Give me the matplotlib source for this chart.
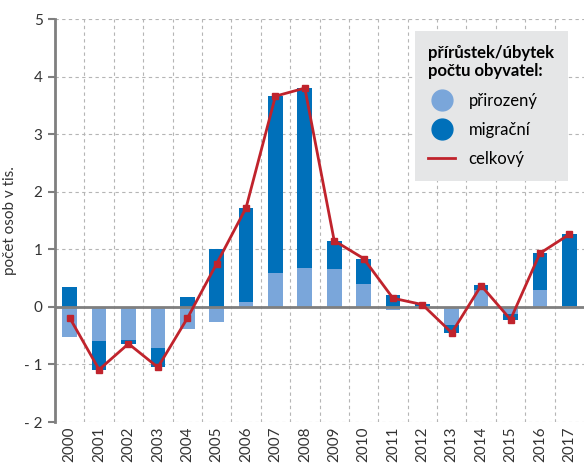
import matplotlib
matplotlib.use("Agg")
import matplotlib.pyplot as plt
import numpy as np
from matplotlib.lines import Line2D

years = [str(y) for y in range(2000, 2018)]
prirozeny = [-0.52, -0.60, -0.58, -0.72, -0.38, -0.26, 0.08, 0.58, 0.67, 0.65,
             0.40, -0.06, 0.01, -0.32, 0.30, -0.13, 0.30, 0.01]
migracni = [0.35, -0.49, -0.06, -0.33, 0.18, 1.00, 1.64, 3.08, 3.13, 0.50,
            0.44, 0.20, 0.04, -0.14, 0.08, -0.10, 0.63, 1.25]
celkovy = [-0.19, -1.09, -0.64, -1.05, -0.20, 0.75, 1.72, 3.66, 3.80, 1.15,
           0.84, 0.15, 0.04, -0.45, 0.37, -0.22, 0.93, 1.26]

LIGHT = "#7aa6da"
DARK = "#0070ba"
RED = "#c0232c"
GREY = "#7f7f7f"

plt.rcParams["font.family"] = ["Lato", "DejaVu Sans"]

fig = plt.figure(figsize=(5.84, 4.66), dpi=100)
ax = fig.add_axes([0.0942, 0.0944, 0.9058, 0.8648])

x = np.arange(len(years))
nat = np.array(prirozeny)
mig = np.array(migracni)
# migration stacks on natural change only when both have the same sign
mig_bottom = np.where(np.sign(nat) == np.sign(mig), nat, 0)

ax.bar(x, nat, width=0.5, color=LIGHT, zorder=2)
ax.bar(x, mig, width=0.5, bottom=mig_bottom, color=DARK, zorder=2)
ax.plot(x, celkovy, color=RED, lw=2, marker="s", ms=4.5, zorder=4)

ax.set_xlim(-0.5, len(years) - 0.5)
ax.set_ylim(-2, 5)
ax.set_yticks(range(-2, 6))
ax.set_yticklabels([str(v) if v >= 0 else "- " + str(-v) for v in range(-2, 6)],
                   fontsize=11, color="#333333")
ax.set_xticks(x)
ax.set_xticklabels(years, rotation=90, fontsize=11, color="#333333")
ax.tick_params(axis="x", length=0, pad=3)
ax.tick_params(axis="y", length=5, width=1.5, color=GREY, pad=4)

# gridlines between categories and at every unit
for b in np.arange(0.5, len(years) - 0.5, 1):
    ax.axvline(b, color="#b5b5b5", lw=0.8, ls=(0, (3, 3)), zorder=1)
for v in range(-2, 6):
    if v != 0:
        ax.axhline(v, color="#b5b5b5", lw=0.8, ls=(0, (3, 3)), zorder=1)
ax.axhline(0, color=GREY, lw=2, zorder=3)

for s in ["top", "right", "bottom"]:
    ax.spines[s].set_visible(False)
ax.spines["left"].set_color(GREY)
ax.spines["left"].set_linewidth(2)

ax.set_ylabel("počet osob v tis.", fontsize=11, color="#333333", labelpad=5)

handles = [
    Line2D([], [], ls="none", marker="o", ms=15, color=LIGHT),
    Line2D([], [], ls="none", marker="o", ms=15, color=DARK),
    Line2D([], [], color=RED, lw=2),
]
leg = ax.legend(handles, ["přirozený", "migrační", "celkový"],
                title="přírůstek/úbytek\npočtu obyvatel:",
                title_fontproperties={"weight": "bold", "size": 12},
                fontsize=12, loc="upper right", bbox_to_anchor=(0.985, 0.99),
                facecolor="#e5e6e7", edgecolor="none", framealpha=1,
                fancybox=False, alignment="left", handlelength=1.6,
                labelspacing=0.8, borderpad=0.8)
leg.set_zorder(5)

fig.savefig("out.png", dpi=100)
